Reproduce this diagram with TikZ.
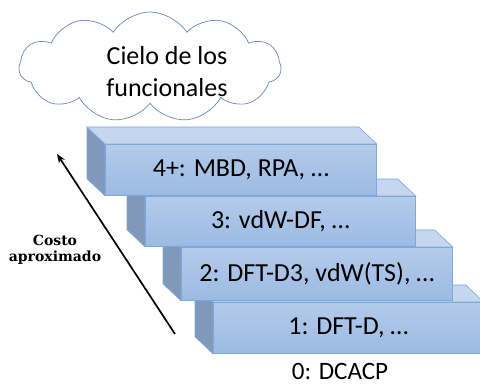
\documentclass[tikz,border=0pt]{standalone}
\usepackage{fontspec}
\setmainfont{Carlito}
\newfontfamily\costofont{DejaVu Serif}
\usetikzlibrary{shapes.symbols,arrows.meta,calc}
\definecolor{bordc}{HTML}{7FA8DA}
\definecolor{frontT}{HTML}{B4CBEA}
\definecolor{frontB}{HTML}{9BBAE3}
\definecolor{sidec}{HTML}{8099BA}
\definecolor{topc}{HTML}{C4D7EF}
\definecolor{cloudc}{HTML}{6A86BE}
\tikzset{
  front/.style={draw=bordc, line width=0.8pt, top color=frontT, bottom color=frontB,
    anchor=north west, inner sep=0pt, font=\fontsize{26}{30}\selectfont},
  sideface/.style={draw=bordc, line width=0.6pt, fill=sidec},
  topface/.style={draw=bordc, line width=0.6pt, fill=topc},
  lbl/.style={font=\fontsize{25}{30}\selectfont, inner sep=0pt},
}
\newcommand\myblock[6]{%
  \node[front, minimum width=#3pt, minimum height=#4pt] (#5) at (#1,#2) {#6};
  \filldraw[sideface] (#5.north west) -- ++(-18,-17) -- ($(#5.south west)+(-18,-17)$) -- (#5.south west) -- cycle;
  \filldraw[topface] (#5.north west) -- ++(-18,-17) -- ($(#5.north east)+(-18,-17)$) -- (#5.north east) -- cycle;
}
\begin{document}
\begin{tikzpicture}[x=1pt,y=-1pt]
\useasboundingbox (0,0) rectangle (480,385);
\clip (0,0) rectangle (480,385);
\node[cloud, cloud puffs=11, cloud puff arc=115, aspect=2.4, draw=cloudc, line width=0.7pt,
  fill=white, minimum width=262pt, minimum height=110pt, inner sep=0pt] (sky) at (150,67) {};
\node[align=center, inner sep=0pt, font=\fontsize{26}{32}\selectfont] (skytext) at (167,72) {Cielo de los\\funcionales};
\myblock{213}{302}{270}{51}{b1}{1: DFT-D, \dots}
\myblock{181}{247}{271}{53}{b2}{2: DFT-D3, vdW(TS), \dots}
\myblock{145}{196}{270}{50}{b3}{3: vdW-DF, \dots}
\myblock{105}{144}{271}{51}{b4}{4+: MBD, RPA, \dots}
\node[lbl, anchor=base] (b0) at (340,379) {0: DCACP};
\coordinate (as) at (175,334);
\coordinate (ae) at (57,154);
\draw[line width=1.7pt, -{Stealth[length=9pt,width=7pt]}] (as) -- (ae);
\node[font=\costofont\bfseries\fontsize{14}{15.5}\selectfont, align=center, inner sep=0pt] (cost) at (55,250) {Costo\\aproximado};
\end{tikzpicture}
\end{document}
